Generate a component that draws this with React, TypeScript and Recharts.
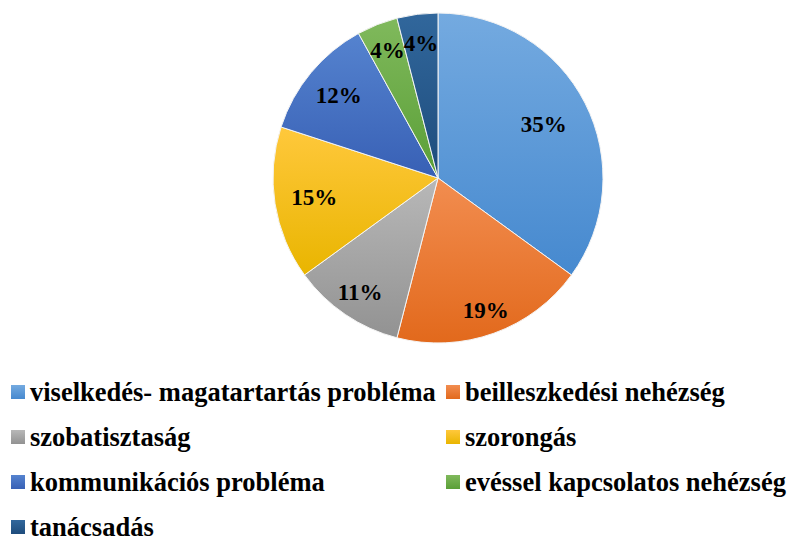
import { PieChart, Pie, Cell, Legend } from 'recharts'

// problem categories and their share (%)
const categories = [
  'viselkedés- magatartartás probléma',
  'beilleszkedési nehézség',
  'szobatisztaság',
  'szorongás',
  'kommunikációs probléma',
  'evéssel kapcsolatos nehézség',
  'tanácsadás',
]
const values = [35, 19, 11, 15, 12, 4, 4]

// gradient stops per slice (top -> bottom)
const topColors = ['#74aae0', '#f28d50', '#b8b8b8', '#ffc83c', '#5583cf', '#80b95c', '#31679c']
const bottomColors = ['#4689cf', '#e2691c', '#929292', '#e9b500', '#3860b5', '#5a9f37', '#1e4c7c']
// how far out each label sits, as share of the radius
const labelRadius = [0.72, 0.855, 0.84, 0.76, 0.78, 0.83, 0.82]

const data = categories.map((name, i) => ({ name, value: values[i] }))

const FONT = '"Liberation Serif", "Times New Roman", serif'

const renderLabel = (props: any) => {
  const { cx, cy, midAngle, outerRadius, index, value } = props
  const RAD = Math.PI / 180
  const r = outerRadius * labelRadius[index]
  const x = cx + r * Math.cos(-midAngle * RAD)
  const y = cy + r * Math.sin(-midAngle * RAD)
  return (
    <text
      x={x}
      y={y}
      fill="#000"
      textAnchor="middle"
      dominantBaseline="central"
      fontFamily={FONT}
      fontWeight="bold"
      fontSize={23}
    >
      {value}%
    </text>
  )
}

const renderLegend = () => (
  <div
    style={{
      display: 'grid',
      gridTemplateColumns: '435px 340px',
      rowGap: 15,
      fontFamily: FONT,
      fontWeight: 'bold',
      fontSize: 26.5,
      lineHeight: 1,
      color: '#000',
    }}
  >
    {categories.map((name, i) => (
      <div
        key={name}
        style={{ display: 'flex', alignItems: 'center', height: 30, whiteSpace: 'nowrap' }}
      >
        <span
          style={{
            display: 'inline-block',
            flex: 'none',
            width: 14,
            height: 14,
            marginRight: 5,
            background: `linear-gradient(${topColors[i]}, ${bottomColors[i]})`,
          }}
        />
        <span>{name}</span>
      </div>
    ))}
  </div>
)

export default function App() {
  return (
    <div
      style={{
        position: 'absolute',
        top: 0,
        left: 0,
        width: 791,
        height: 541,
        overflow: 'hidden',
        background: '#fff',
      }}
    >
      <PieChart width={791} height={541} margin={{ top: 0, right: 0, bottom: 0, left: 0 }}>
        <defs>
          {topColors.map((c, i) => (
            <linearGradient key={i} id={`slice${i}`} x1="0" y1="0" x2="0" y2="1">
              <stop offset="0%" stopColor={c} />
              <stop offset="100%" stopColor={bottomColors[i]} />
            </linearGradient>
          ))}
        </defs>
        <Pie
          data={data}
          dataKey="value"
          nameKey="name"
          cx={438}
          cy={178}
          outerRadius={165}
          startAngle={90}
          endAngle={-270}
          stroke="#f4f4f4"
          strokeWidth={1}
          label={renderLabel}
          labelLine={false}
          isAnimationActive={false}
        >
          {data.map((_, i) => (
            <Cell key={i} fill={`url(#slice${i})`} />
          ))}
        </Pie>
        <Legend
          content={renderLegend}
          wrapperStyle={{ top: 377, left: 11, width: 780 }}
        />
      </PieChart>
    </div>
  )
}
